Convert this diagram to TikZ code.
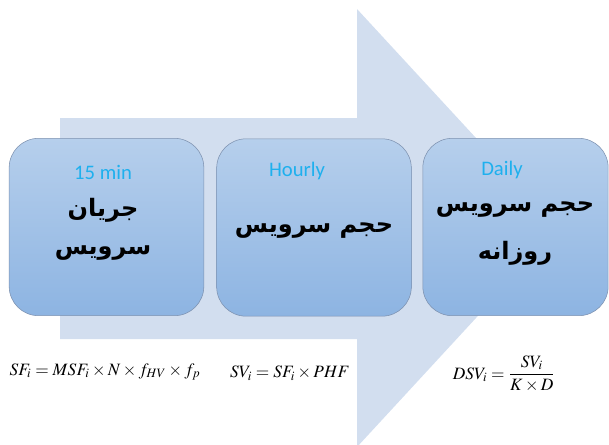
\documentclass[tikz,border=0pt]{standalone}
\usepackage{amsmath}
\usepackage{mathptmx}
\usepackage{fontspec}
\usetikzlibrary{positioning}
\TeXXeTstate=1
\newfontfamily\farsi[Script=Arabic]{DejaVu Sans}
\newfontfamily\calib{Carlito}
\definecolor{arrowblue}{RGB}{210,222,239}
\definecolor{boxtop}{RGB}{182,207,236}
\definecolor{boxbottom}{RGB}{141,180,226}
\definecolor{boxline}{RGB}{125,145,175}
\definecolor{cyantext}{RGB}{30,176,238}

\begin{document}
\begin{tikzpicture}[x=0.75pt, y=-0.75pt,
	stage/.style={draw=boxline, thin, rounded corners=22pt, top color=boxtop, bottom color=boxbottom, minimum width=146pt, minimum height=133pt},
	period/.style={text=cyantext, font=\calib\fontsize{15.5}{18}\selectfont},
	farsitext/.style={font=\farsi\bfseries\fontsize{18}{22}\selectfont},
	formula/.style={font=\fontsize{13}{15}\selectfont}]

	\useasboundingbox (0,0) rectangle (609,444);
	\begin{scope}
		\clip (0,0) rectangle (609,444);
		\fill[arrowblue] (60,118) -- (357,118) -- (357,9) -- (559,228) -- (357,447) -- (357,339) -- (60,339) -- cycle;
	\end{scope}

	\node[stage] (b1) at (106.5,227) {};
	\node[stage] (b2) at (314,227.5) {};
	\node[stage, minimum width=139pt] (b3) at (515.5,227) {};

	\node[period] (t1) at (103,172) {15 min};
	\node[period] (t2) at (297,171) {Hourly};
	\node[period] (t3) at (502,170) {Daily};

	\node[farsitext] (p1) at (103,210) {\beginR جریان\endR};
	\node[farsitext] (p2) at (103,253) {\beginR سرویس\endR};
	\node[farsitext] (p3) at (314,231) {\beginR حجم سرویس\endR};
	\node[farsitext] (p4) at (515,210) {\beginR حجم سرویس\endR};
	\node[farsitext] (p5) at (515,253) {\beginR روزانه\endR};

	\node[formula] (f1) at (105,372) {$SF_i = MSF_i \times N \times f_{HV} \times f_p$};
	\node[formula] (f2) at (290,373) {$SV_i = SF_i \times PHF$};
	\node[formula] (f3) at (504,374) {$DSV_i = \dfrac{SV_i}{K \times D}$};

\end{tikzpicture}
\end{document}
